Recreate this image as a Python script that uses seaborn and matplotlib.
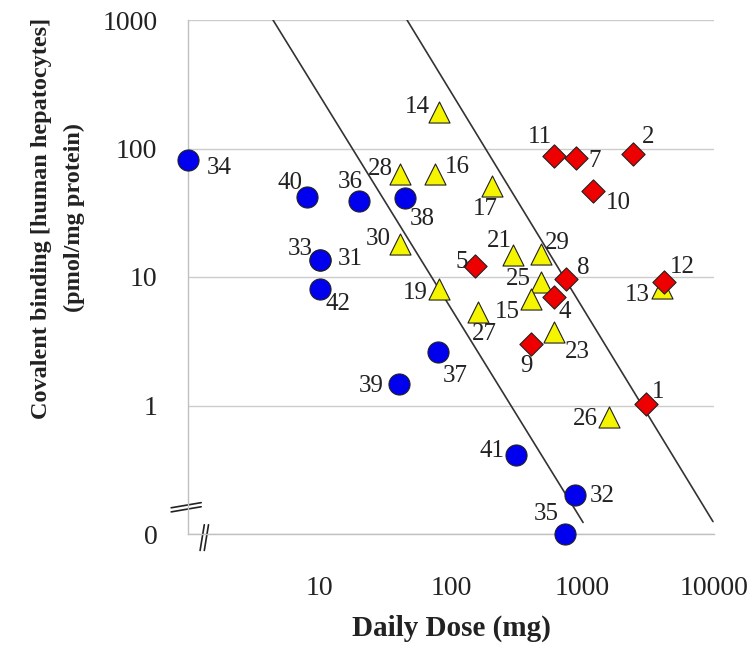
import numpy as np
import pandas as pd
import matplotlib
matplotlib.use("Agg")
import matplotlib.pyplot as plt
import seaborn as sns

# data (dose in mg, binding in pmol/mg protein; "0" plotted at 0.1)
blue_ids = ["34", "40", "36", "38", "33", "31", "42", "37", "39", "41", "32", "35"]
blue_dose = [1.0, 8.0, 20, 45, 10, 10, 10, 80, 40, 312, 880, 740]
blue_binding = [82, 42, 39, 41, 13.5, 13.5, 8.0, 2.6, 1.46, 0.41, 0.20, 0.1]

yellow_ids = ["14", "28", "16", "30", "19", "17", "21", "29", "25", "15", "27", "23", "13", "26"]
yellow_dose = [81, 41, 75, 41, 81, 205, 296, 483, 483, 406, 160, 607, 4030, 1590]
yellow_binding = [194, 63, 63, 18, 8.1, 51, 14.7, 15.2, 9.1, 6.8, 5.3, 3.7, 8.2, 0.81]

red_ids = ["11", "7", "2", "10", "5", "8", "4", "12", "9", "1"]
red_dose = [607, 893, 2420, 1200, 152, 750, 607, 4170, 406, 3040]
red_binding = [88, 84, 91, 47, 12.1, 9.6, 7.05, 9.2, 3.0, 1.02]

# the two diagonal reference lines (end points)
line_a_dose = [4.43, 1010]
line_a_binding = [1000, 0.123]
line_b_dose = [46.3, 9820]
line_b_binding = [1000, 0.125]

x_ticks = [10, 100, 1000, 10000]
x_ticklabels = ["10", "100", "1000", "10000"]
y_ticks = [0.1, 1, 10, 100, 1000]
y_ticklabels = ["0", "1", "10", "100", "1000"]

# label offsets in pixels (dx right, dy up)
label_offsets = {
    "34": (31, -8), "40": (-17, 14), "36": (-9, 19), "38": (17, -21), "33": (-19, 11),
    "31": (31, 1), "42": (19, -15), "37": (17, -24), "39": (-27, -2), "41": (-24, 4),
    "32": (27, -1), "35": (-19, 20),
    "14": (-22, 5), "28": (-20, 5), "16": (23, 7), "30": (-22, 5), "19": (-24, -4),
    "17": (-7, -23), "21": (-14, 14), "29": (16, 11), "25": (-23, 3), "15": (-24, -13),
    "27": (7, -22), "23": (23, -20), "13": (-25, -7), "26": (-24, -2),
    "11": (-14, 19), "7": (19, -3), "2": (15, 17), "10": (25, -12), "5": (-13, 4),
    "8": (17, 11), "4": (11, -15), "12": (18, 15), "9": (-5, -22), "1": (12, 12),
}

df = pd.concat([
    pd.DataFrame({"id": blue_ids, "dose": blue_dose, "binding": blue_binding, "group": "blue"}),
    pd.DataFrame({"id": yellow_ids, "dose": yellow_dose, "binding": yellow_binding, "group": "yellow"}),
    pd.DataFrame({"id": red_ids, "dose": red_dose, "binding": red_binding, "group": "red"}),
], ignore_index=True)

sns.set_style("white")
plt.rcParams["font.family"] = ["Liberation Serif", "DejaVu Serif"]

fig = plt.figure(figsize=(7.54, 6.49), dpi=100)
ax = fig.add_axes([188 / 754, 1 - 534 / 649, (714 - 188) / 754, (534 - 20) / 649])

ax.plot(line_a_dose, line_a_binding, color="#333333", lw=1.2, zorder=2)
ax.plot(line_b_dose, line_b_binding, color="#333333", lw=1.2, zorder=2)

palette = {"blue": "#0000ee", "yellow": "#f5f500", "red": "#ee0000"}
markers = {"blue": "o", "yellow": "^", "red": "D"}
sizes = {"blue": 230, "yellow": 230, "red": 140}
for g in ["blue", "yellow", "red"]:
    sns.scatterplot(data=df[df["group"] == g], x="dose", y="binding", color=palette[g],
                    marker=markers[g], s=sizes[g], edgecolor="#202020", linewidth=0.8,
                    ax=ax, zorder=3, legend=False, clip_on=False)

for _, r in df.iterrows():
    dx, dy = label_offsets[r["id"]]
    ax.annotate(r["id"], (r["dose"], r["binding"]), xytext=(dx, dy), textcoords="offset pixels",
                ha="center", va="center", fontsize=18, color="#222222", zorder=4)

ax.set_xscale("log")
ax.set_yscale("log")
ax.set_xlim(1, 10000)
ax.set_ylim(0.1, 1000)
ax.set_xlabel("")
ax.set_ylabel("")

ax.set_xticks(x_ticks)
ax.set_xticklabels(x_ticklabels)
ax.set_yticks(y_ticks)
ax.set_yticklabels(y_ticklabels)
ax.xaxis.set_minor_locator(matplotlib.ticker.LogLocator(base=10, subs=np.arange(2, 10)))
ax.yaxis.set_minor_locator(matplotlib.ticker.LogLocator(base=10, subs=np.arange(2, 10)))
ax.xaxis.set_minor_formatter(matplotlib.ticker.NullFormatter())
ax.yaxis.set_minor_formatter(matplotlib.ticker.NullFormatter())

ax.tick_params(axis="both", which="both", direction="in", color="#b8b8b8", labelsize=20,
               labelcolor="#222222")
ax.tick_params(axis="x", which="major", length=6, pad=30)
ax.tick_params(axis="x", which="minor", length=5)
ax.tick_params(axis="y", which="major", length=0, pad=22)
ax.tick_params(axis="y", which="minor", length=6)

ax.yaxis.grid(True, which="major", color="#cccccc", lw=1.0)
ax.xaxis.grid(False)
for s in ["top", "right"]:
    ax.spines[s].set_visible(False)
for s in ["left", "bottom"]:
    ax.spines[s].set_color("#c0c0c0")
    ax.spines[s].set_linewidth(1.0)

# axis break marks
for off in (-0.004, 0.004):
    ax.plot([-0.032, 0.025], [0.047 + off, 0.057 + off], transform=ax.transAxes,
            color="#222222", lw=1.2, clip_on=False)
for off in (-0.004, 0.004):
    ax.plot([0.027 + off, 0.035 + off], [-0.032, 0.018], transform=ax.transAxes,
            color="#222222", lw=1.2, clip_on=False)

fig.text(451 / 754, 1 - 628 / 649, "Daily Dose (mg)", ha="center", va="center",
         fontsize=21, fontweight="bold", color="#222222")
fig.text(58 / 754, 1 - 218 / 649, "Covalent binding [human hepatocytes]\n(pmol/mg protein)",
         ha="center", va="center", rotation=90, fontsize=17.5, fontweight="bold",
         color="#222222", linespacing=1.75)

fig.savefig("out.png", dpi=100)
